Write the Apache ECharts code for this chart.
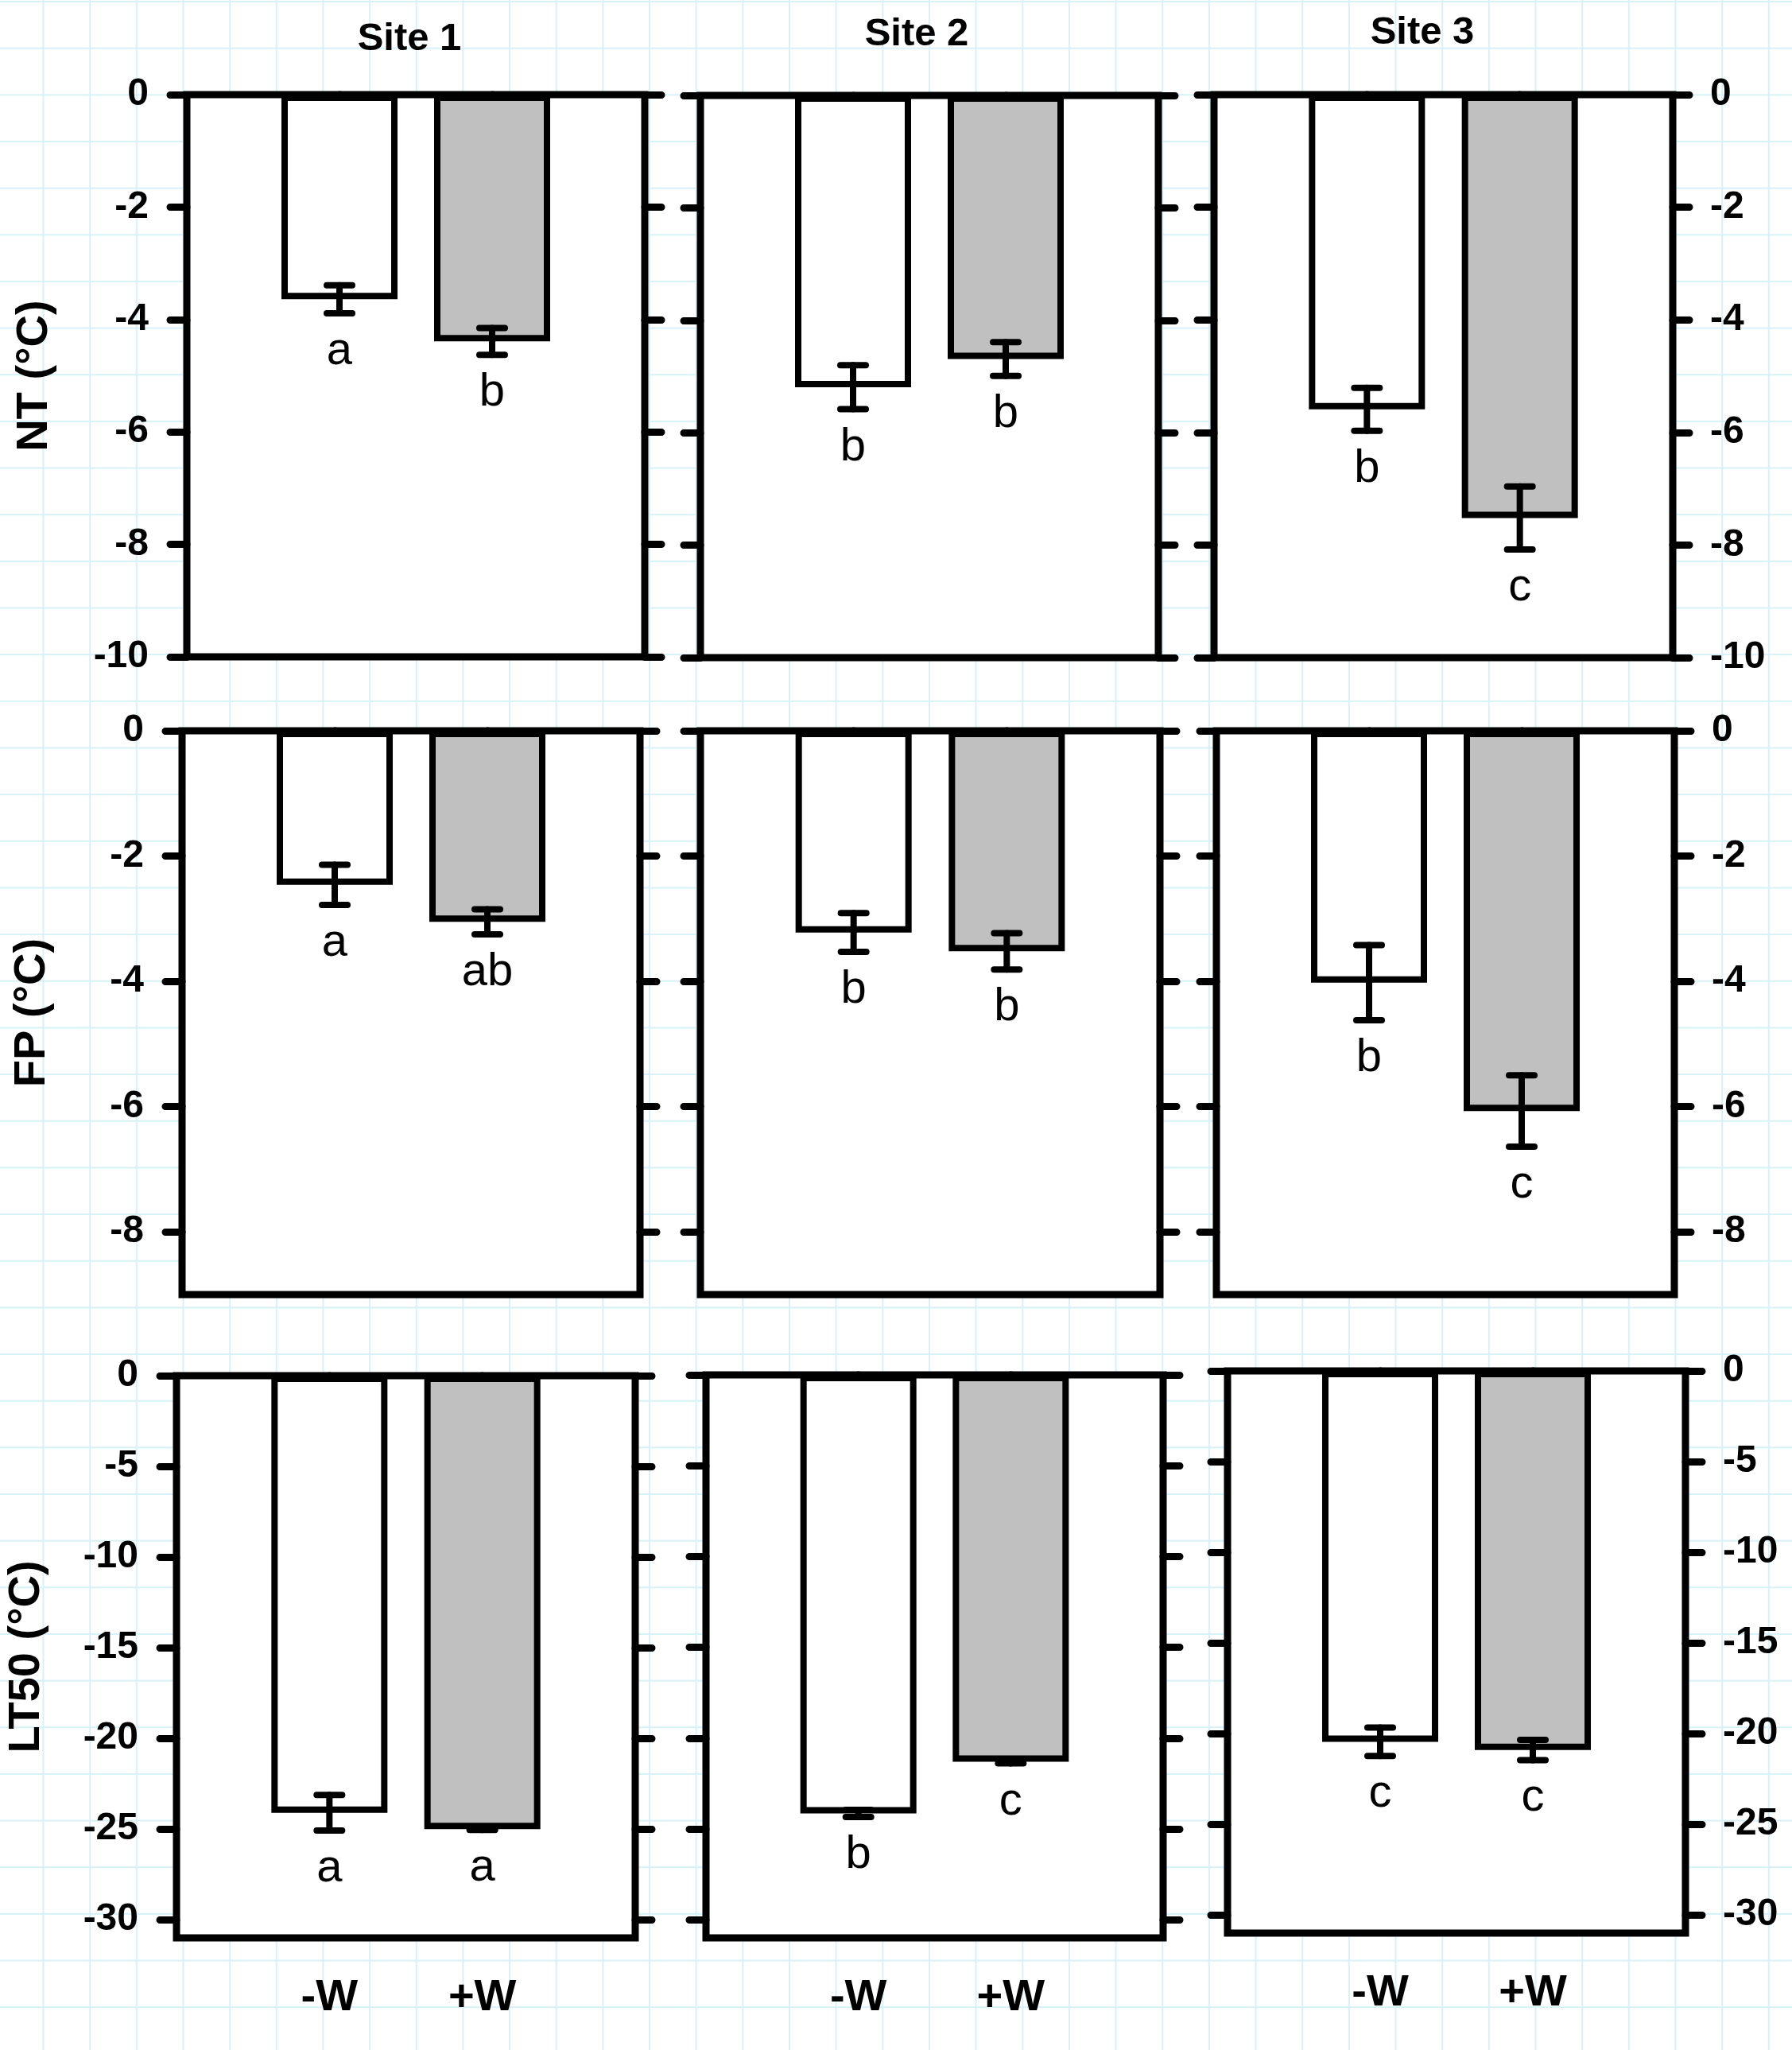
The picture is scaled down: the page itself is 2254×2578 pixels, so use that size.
<!DOCTYPE html>
<html>
<head>
<meta charset="utf-8">
<title>NT, FP and LT50 by site</title>
<script src="https://cdn.jsdelivr.net/npm/echarts@6/dist/echarts.min.js"></script>
<style>
  html, body { margin: 0; padding: 0; }
  body {
    width: 2254px;
    height: 2578px;
    background-color: #fff;
    background-image:
      linear-gradient(to right, #d6f2f8 2px, transparent 2px),
      linear-gradient(to bottom, #d6f2f8 2px, transparent 2px);
    background-size: 58.67px 58.67px;
    background-position: 53.5px 1px;
  }
  #chart { width: 2254px; height: 2578px; }
</style>
</head>
<body>
<div id="chart"></div>
<script>
// ---- data ----
const sites = ['Site 1', 'Site 2', 'Site 3']
const treatments = ['-W', '+W']
const variables = ['NT (°C)', 'FP (°C)', 'LT50 (°C)']

// [site][treatment]
const ntMean = [[-3.64, -4.39], [-5.19, -4.69], [-5.59, -7.52]]
const ntSE = [[0.25, 0.24], [0.39, 0.30], [0.38, 0.56]]
const ntLetters = [['a', 'b'], ['b', 'b'], ['b', 'c']]

const fpMean = [[-2.46, -3.05], [-3.22, -3.52], [-4.02, -6.07]]
const fpSE = [[0.32, 0.20], [0.31, 0.29], [0.60, 0.57]]
const fpLetters = [['a', 'ab'], ['b', 'b'], ['b', 'c']]

const lt50Mean = [[-24.1, -25.0], [-24.15, -21.3], [-20.45, -20.9]]
const lt50SE = [[0.98, 0.05], [0.20, 0.09], [0.78, 0.56]]
const lt50Letters = [['a', 'a'], ['b', 'c'], ['c', 'c']]

const ntTicks = [0, -2, -4, -6, -8, -10]
const fpTicks = [0, -2, -4, -6, -8]
const lt50Ticks = [0, -5, -10, -15, -20, -25, -30]
const axisMin = [-10, -9, -31]

// ---- layout (pixels) ----
const panelBoxes = [
  [[235, 119, 576, 707], [881, 120, 576, 707], [1527, 119, 577, 708]],
  [[229, 919, 576, 709], [881, 919, 578, 709], [1530, 919, 576, 709]],
  [[222, 1730, 577, 707], [888, 1729, 575, 708], [1544, 1724, 576, 707]]
]
const titlePos = [[515, 49], [1153, 43], [1789, 41]]
const nameGaps = [163, 160, 160]

const FONT = '"Liberation Sans", Arial, sans-serif'
const barFill = ['#ffffff', '#c0c0c0']
const letterOffset = 48

const rows = [
  { mean: ntMean, se: ntSE, letters: ntLetters, ticks: ntTicks },
  { mean: fpMean, se: fpSE, letters: fpLetters, ticks: fpTicks },
  { mean: lt50Mean, se: lt50SE, letters: lt50Letters, ticks: lt50Ticks }
]

const grid = []
const xAxis = []
const yAxis = []
const series = []

const tickStyle = { color: '#000', width: 9, cap: 'round' }
const labelStyle = { color: '#000', fontFamily: FONT, fontWeight: 'bold', fontSize: 48 }

rows.forEach((row, r) => {
  sites.forEach((site, s) => {
    const idx = r * 3 + s
    const box = panelBoxes[r][s]
    grid.push({
      left: box[0], top: box[1], width: box[2], height: box[3],
      show: true, backgroundColor: '#fff', borderColor: '#000', borderWidth: 9,
      containLabel: false, outerBoundsMode: 'none'
    })

    xAxis.push({
      type: 'value', gridIndex: idx, min: 0, max: 3, position: 'bottom',
      axisLine: { show: false },
      splitLine: { show: false },
      axisTick: { show: true, inside: false, length: 18, customValues: [1, 2], lineStyle: tickStyle },
      axisLabel: {
        show: r === 2, customValues: [1, 2], margin: 48,
        formatter: v => treatments[v - 1],
        ...labelStyle, fontSize: 56
      }
    })

    const yBase = {
      type: 'value', gridIndex: idx, min: axisMin[r], max: 0,
      axisLine: { show: false },
      splitLine: { show: false },
      axisTick: { show: true, inside: false, length: 21, customValues: row.ticks, lineStyle: tickStyle }
    }
    yAxis.push({
      ...yBase, position: 'left',
      axisLabel: { show: s === 0, customValues: row.ticks, margin: 48, ...labelStyle },
      name: s === 0 ? variables[r] : '',
      nameLocation: 'middle', nameRotate: 90, nameGap: nameGaps[r],
      nameTextStyle: { color: '#000', fontFamily: FONT, fontWeight: 'bold', fontSize: 56 }
    })
    yAxis.push({
      ...yBase, position: 'right',
      axisLabel: { show: s === 2, customValues: row.ticks, margin: 47, ...labelStyle }
    })

    series.push({
      type: 'bar', xAxisIndex: idx, yAxisIndex: idx * 2,
      barWidth: 146, silent: true, animation: false,
      data: treatments.map((t, k) => ({
        value: [k + 1, row.mean[s][k]],
        itemStyle: { color: barFill[k], borderColor: '#000', borderWidth: 8 }
      }))
    })

    series.push({
      type: 'custom', xAxisIndex: idx, yAxisIndex: idx * 2,
      coordinateSystem: 'cartesian2d', clip: false, silent: true, animation: false, z: 5,
      data: treatments.map((t, k) => [k + 1, row.mean[s][k], row.se[s][k]]),
      renderItem: (params, api) => {
        const x = api.value(0)
        const m = api.value(1)
        const e = api.value(2)
        const hi = api.coord([x, m + e])
        const lo = api.coord([x, m - e])
        const line = { stroke: '#000', lineWidth: 8, lineCap: 'round' }
        const cap = 16
        return {
          type: 'group',
          children: [
            { type: 'line', shape: { x1: hi[0], y1: hi[1], x2: lo[0], y2: lo[1] }, style: line },
            { type: 'line', shape: { x1: hi[0] - cap, y1: hi[1], x2: hi[0] + cap, y2: hi[1] }, style: line },
            { type: 'line', shape: { x1: lo[0] - cap, y1: lo[1], x2: lo[0] + cap, y2: lo[1] }, style: line },
            {
              type: 'text',
              style: {
                text: row.letters[s][params.dataIndex],
                x: lo[0], y: lo[1] + letterOffset,
                fill: '#000', font: '58px ' + FONT,
                textAlign: 'center', textVerticalAlign: 'middle'
              }
            }
          ]
        }
      }
    })
  })
})

const title = sites.map((site, s) => ({
  text: site, left: titlePos[s][0], top: titlePos[s][1],
  textAlign: 'center', textVerticalAlign: 'middle', padding: 0,
  textStyle: { color: '#000', fontFamily: FONT, fontWeight: 'bold', fontSize: 49 }
}))

const chart = echarts.init(document.getElementById('chart'), null, { renderer: 'canvas' })
chart.setOption({
  backgroundColor: 'transparent',
  animation: false,
  title: title,
  grid: grid,
  xAxis: xAxis,
  yAxis: yAxis,
  series: series
})
</script>
</body>
</html>
